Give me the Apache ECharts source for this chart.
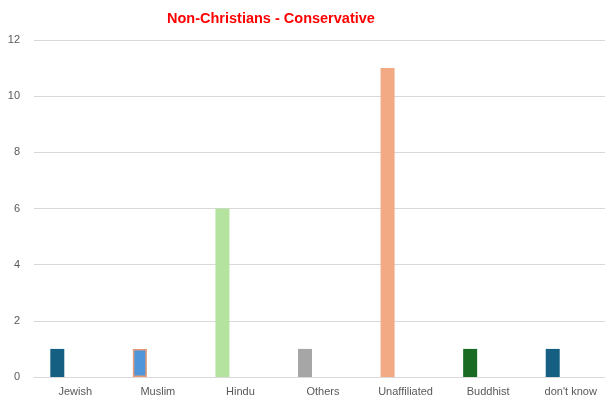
<!DOCTYPE html>
<html>
<head>
<meta charset="utf-8">
<script src="https://cdn.jsdelivr.net/npm/echarts@6/dist/echarts.min.js"></script>
<style>
  html, body { margin: 0; padding: 0; background: #fff; overflow: hidden; }
  #chart { width: 612px; height: 402px; }
</style>
</head>
<body>
<div id="chart"></div>
<script>
var categories = ['Jewish', 'Muslim', 'Hindu', 'Others', 'Unaffiliated', 'Buddhist', "don't know"];
var counts = [1, 1, 6, 1, 11, 1, 1];
var barColors = ['#156082', '#4E95D9', '#B4E3A0', '#A6A6A6', '#F2AA84', '#196B24', '#156082'];
var barBorders = ['#156082', '#E59A78', '#B4E3A0', '#A6A6A6', '#F2AA84', '#196B24', '#156082'];
var yTicks = [0, 12, 2];

var myChart = echarts.init(document.getElementById('chart'));

var barData = counts.map(function (v, i) {
    return {
        value: v,
        itemStyle: {
            color: barColors[i],
            borderColor: barBorders[i],
            borderWidth: i === 1 ? 1.5 : 0
        }
    };
});

var option = {
    animation: false,
    title: {
        text: 'Non-Christians - Conservative',
        left: 162,
        top: 6,
        textStyle: {
            color: '#FF0000',
            fontFamily: 'Arial',
            fontWeight: 'bold',
            fontSize: 14.5
        }
    },
    grid: {
        left: 34,
        top: 40,
        right: 0,
        bottom: 25
    },
    xAxis: {
        type: 'category',
        data: categories,
        axisTick: {show: false},
        axisLine: {lineStyle: {color: '#D9D9D9', width: 1}},
        axisLabel: {
            color: '#595959',
            fontFamily: 'Arial',
            fontSize: 11,
            margin: 9
        }
    },
    yAxis: {
        type: 'value',
        min: yTicks[0],
        max: yTicks[1],
        interval: yTicks[2],
        axisLine: {show: false},
        axisTick: {show: false},
        splitLine: {lineStyle: {color: '#D9D9D9', width: 1}},
        axisLabel: {
            color: '#595959',
            fontFamily: 'Arial',
            fontSize: 11,
            margin: 14
        }
    },
    series: [
        {
            type: 'bar',
            data: barData,
            barWidth: 14,
            barGap: '157%'
        },
        {
            // empty companion series, keeps the bars left of the label like the original
            type: 'bar',
            data: categories.map(function () { return '-'; }),
            barWidth: 14
        }
    ]
};
myChart.setOption(option);
</script>
</body>
</html>
